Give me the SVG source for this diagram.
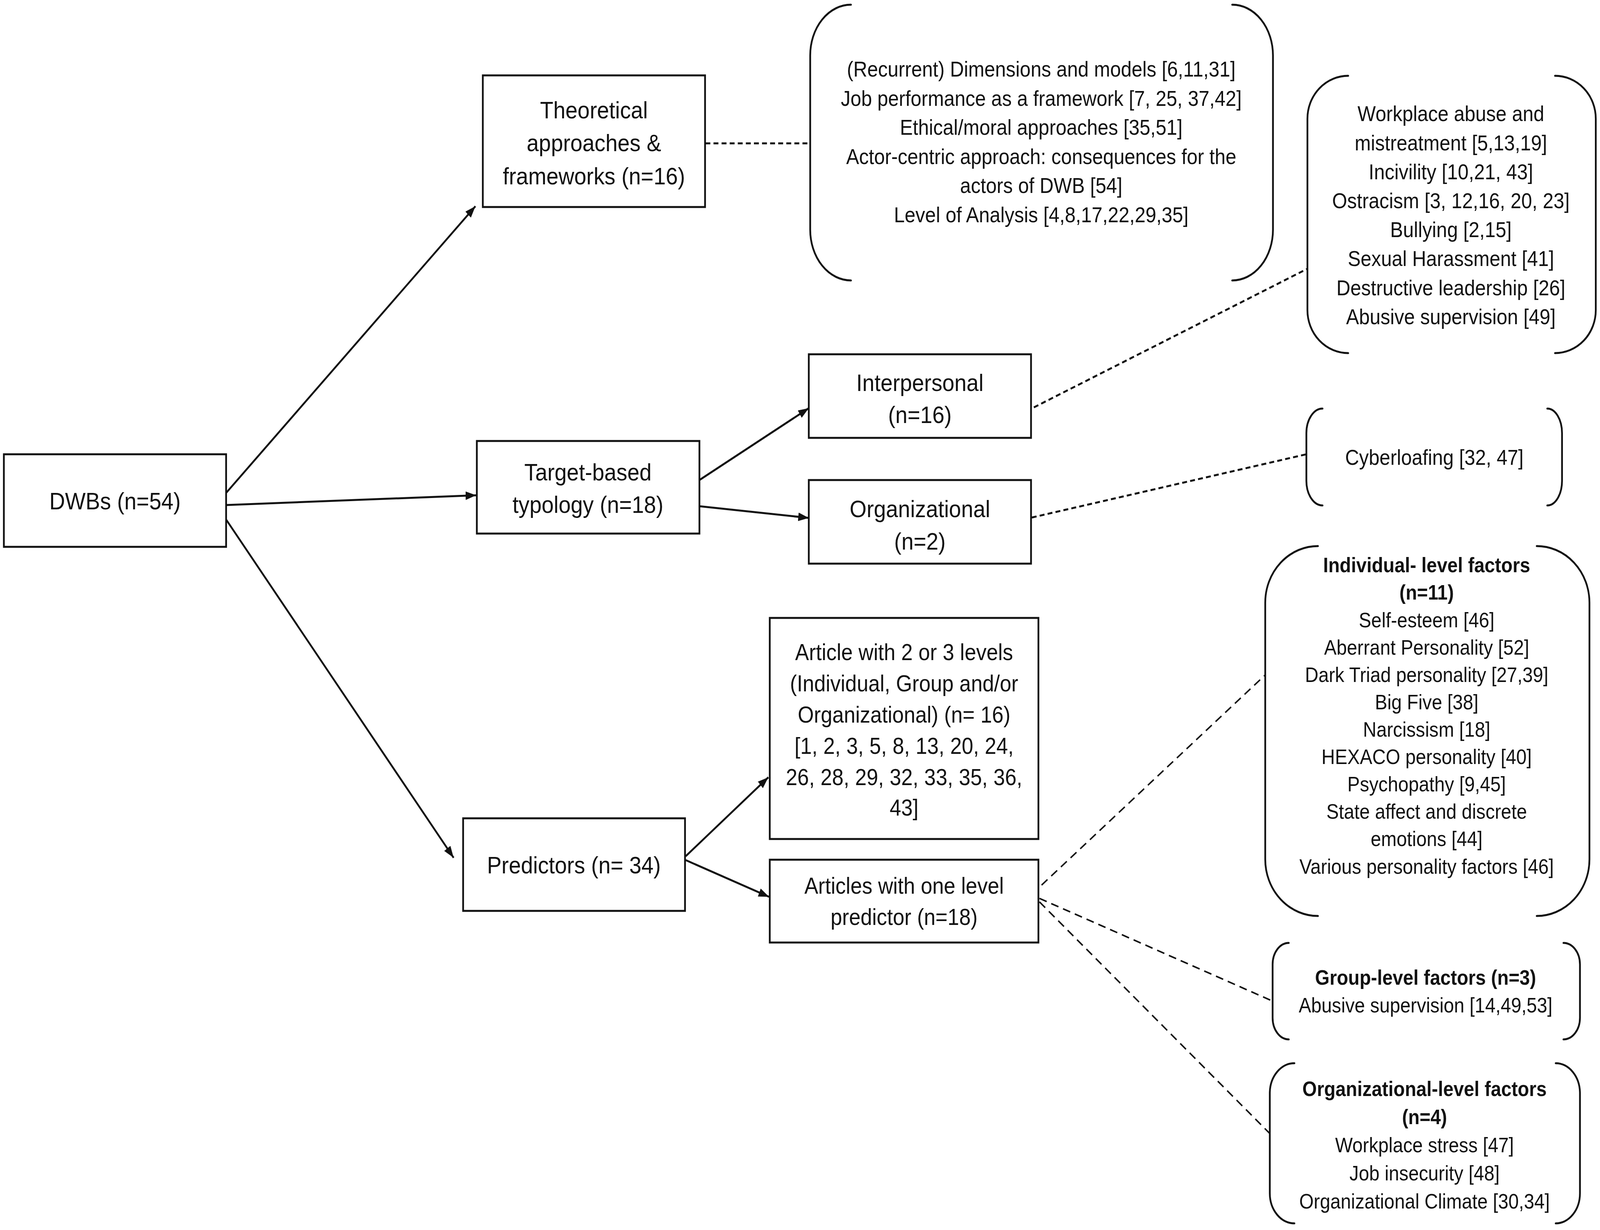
<svg xmlns="http://www.w3.org/2000/svg" width="4550" height="3149" viewBox="0 0 4550 3149" preserveAspectRatio="none">
<style>
svg{width:100vw;height:100vh}
.box{fill:#fff;stroke:#111;stroke-width:5}
.br{fill:none;stroke:#111;stroke-width:5;stroke-linecap:round}
.arr{stroke:#111;stroke-width:5;fill:none}
.dash{stroke:#111;stroke-width:5;fill:none;stroke-dasharray:14 9}
.dash2{stroke:#111;stroke-width:4;fill:none;stroke-dasharray:22 14}
text{font-family:"Liberation Sans",Arial,sans-serif;fill:#111;text-anchor:middle}
.m{font-size:62px}
.a{font-size:59px}
.d{font-size:55px}
.s{font-size:53px}
.b{font-weight:bold}
</style>
<defs>
<marker id="ah" markerUnits="userSpaceOnUse" markerWidth="32" markerHeight="24" refX="30" refY="11" orient="auto">
<path d="M0,0 L30,11 L0,22 z" fill="#111"/>
</marker>
</defs>
<rect width="4550" height="3149" fill="#fff"/>
<g id="connectors">
<line class="arr" x1="643" y1="1262" x2="1352" y2="528" marker-end="url(#ah)"/>
<line class="arr" x1="643" y1="1293" x2="1354" y2="1268" marker-end="url(#ah)"/>
<line class="arr" x1="643" y1="1330" x2="1290" y2="2196" marker-end="url(#ah)"/>
<line class="arr" x1="1989" y1="1229" x2="2300" y2="1045" marker-end="url(#ah)"/>
<line class="arr" x1="1989" y1="1296" x2="2300" y2="1326" marker-end="url(#ah)"/>
<line class="arr" x1="1950" y1="2192" x2="2185" y2="1990" marker-end="url(#ah)"/>
<line class="arr" x1="1950" y1="2202" x2="2187" y2="2296" marker-end="url(#ah)"/>
<line class="dash" x1="2006" y1="367" x2="2302" y2="367"/>
<line class="dash" x1="2940" y1="1043" x2="3718" y2="688"/>
<line class="dash" x1="2934" y1="1325" x2="3715" y2="1163"/>
<line class="dash2" x1="2962" y1="2266" x2="3598" y2="1728"/>
<line class="dash2" x1="2956" y1="2300" x2="3619" y2="2563"/>
<line class="dash2" x1="2956" y1="2309" x2="3611" y2="2902"/>
</g>
<g id="dwbs">
<rect class="box" x="11" y="1163" width="632" height="237"/>
<text class="m" x="327" y="1304">DWBs (n=54)</text>
</g>
<g id="theoretical">
<rect class="box" x="1373" y="193" width="632" height="337"/>
<text class="m" x="1689" y="303">Theoretical</text>
<text class="m" x="1689" y="387">approaches &amp;</text>
<text class="m" x="1689" y="472">frameworks (n=16)</text>
</g>
<g id="target">
<rect class="box" x="1356" y="1129" width="633" height="237"/>
<text class="m" x="1672" y="1230">Target-based</text>
<text class="m" x="1672" y="1313">typology (n=18)</text>
</g>
<g id="interpersonal">
<rect class="box" x="2300" y="907" width="632" height="214"/>
<text class="m" x="2616" y="1001">Interpersonal</text>
<text class="m" x="2616" y="1083">(n=16)</text>
</g>
<g id="organizational">
<rect class="box" x="2300" y="1229" width="632" height="214"/>
<text class="m" x="2616" y="1324">Organizational</text>
<text class="m" x="2616" y="1407">(n=2)</text>
</g>
<g id="predictors">
<rect class="box" x="1317" y="2095" width="631" height="237"/>
<text class="m" x="1632" y="2236">Predictors (n= 34)</text>
</g>
<g id="multi-level">
<rect class="box" x="2189" y="1582" width="764" height="566"/>
<text class="a" x="2571" y="1690">Article with 2 or 3 levels</text>
<text class="a" x="2571" y="1770">(Individual, Group and/or</text>
<text class="a" x="2571" y="1850">Organizational) (n= 16)</text>
<text class="a" x="2571" y="1930">[1, 2, 3, 5, 8, 13, 20, 24,</text>
<text class="a" x="2571" y="2010">26, 28, 29, 32, 33, 35, 36,</text>
<text class="a" x="2571" y="2088">43]</text>
</g>
<g id="one-level">
<rect class="box" x="2189" y="2201" width="764" height="212"/>
<text class="a" x="2571" y="2288">Articles with one level</text>
<text class="a" x="2571" y="2368">predictor (n=18)</text>
</g>
<g id="theory-list">
<path class="br" d="M2420,12 A116,130 0 0 0 2304,142 L2304,588 A116,130 0 0 0 2420,718"/>
<path class="br" d="M3504,12 A116,130 0 0 1 3620,142 L3620,588 A116,130 0 0 1 3504,718"/>
<text class="d" x="2961" y="196">(Recurrent) Dimensions and models [6,11,31]</text>
<text class="d" x="2961" y="271">Job performance as a framework [7, 25, 37,42]</text>
<text class="d" x="2961" y="345">Ethical/moral approaches [35,51]</text>
<text class="d" x="2961" y="420">Actor-centric approach: consequences for the</text>
<text class="d" x="2961" y="494">actors of DWB [54]</text>
<text class="d" x="2961" y="569">Level of Analysis [4,8,17,22,29,35]</text>
</g>
<g id="interpersonal-list">
<path class="br" d="M3834,194 A116,110 0 0 0 3718,304 L3718,794 A116,110 0 0 0 3834,904"/>
<path class="br" d="M4422,194 A116,110 0 0 1 4538,304 L4538,794 A116,110 0 0 1 4422,904"/>
<text class="d" x="4126" y="310">Workplace abuse and</text>
<text class="d" x="4126" y="385">mistreatment [5,13,19]</text>
<text class="d" x="4126" y="459">Incivility [10,21, 43]</text>
<text class="d" x="4126" y="533">Ostracism [3, 12,16, 20, 23]</text>
<text class="d" x="4126" y="607">Bullying [2,15]</text>
<text class="d" x="4126" y="681">Sexual Harassment [41]</text>
<text class="d" x="4126" y="756">Destructive leadership [26]</text>
<text class="d" x="4126" y="830">Abusive supervision [49]</text>
</g>
<g id="organizational-list">
<path class="br" d="M3761,1046 A46,63 0 0 0 3715,1109 L3715,1231 A46,63 0 0 0 3761,1294"/>
<path class="br" d="M4400,1046 A42,63 0 0 1 4442,1109 L4442,1231 A42,63 0 0 1 4400,1294"/>
<text class="d" x="4079" y="1190">Cyberloafing [32, 47]</text>
</g>
<g id="individual-factors">
<path class="br" d="M3748,1398 A150,145 0 0 0 3598,1543 L3598,2200 A150,145 0 0 0 3748,2345"/>
<path class="br" d="M4370,1398 A150,145 0 0 1 4520,1543 L4520,2200 A150,145 0 0 1 4370,2345"/>
<text class="s b" x="4057" y="1465">Individual- level factors</text>
<text class="s b" x="4057" y="1535">(n=11)</text>
<text class="s" x="4057" y="1606">Self-esteem [46]</text>
<text class="s" x="4057" y="1676">Aberrant Personality [52]</text>
<text class="s" x="4057" y="1746">Dark Triad personality [27,39]</text>
<text class="s" x="4057" y="1816">Big Five [38]</text>
<text class="s" x="4057" y="1886">Narcissism [18]</text>
<text class="s" x="4057" y="1956">HEXACO personality [40]</text>
<text class="s" x="4057" y="2026">Psychopathy [9,45]</text>
<text class="s" x="4057" y="2096">State affect and discrete</text>
<text class="s" x="4057" y="2166">emotions [44]</text>
<text class="s" x="4057" y="2237">Various personality factors [46]</text>
</g>
<g id="group-factors">
<path class="br" d="M3665,2414 A46,55 0 0 0 3619,2469 L3619,2606 A46,55 0 0 0 3665,2661"/>
<path class="br" d="M4446,2414 A47,55 0 0 1 4493,2469 L4493,2606 A47,55 0 0 1 4446,2661"/>
<text class="s b" x="4054" y="2521">Group-level factors (n=3)</text>
<text class="s" x="4054" y="2592">Abusive supervision [14,49,53]</text>
</g>
<g id="org-factors">
<path class="br" d="M3681,2722 A70,77 0 0 0 3611,2799 L3611,3055 A70,77 0 0 0 3681,3132"/>
<path class="br" d="M4424,2722 A69,77 0 0 1 4493,2799 L4493,3055 A69,77 0 0 1 4424,3132"/>
<text class="s b" x="4051" y="2806">Organizational-level factors</text>
<text class="s b" x="4051" y="2878">(n=4)</text>
<text class="s" x="4051" y="2950">Workplace stress [47]</text>
<text class="s" x="4051" y="3022">Job insecurity [48]</text>
<text class="s" x="4051" y="3094">Organizational Climate [30,34]</text>
</g>
</svg>
